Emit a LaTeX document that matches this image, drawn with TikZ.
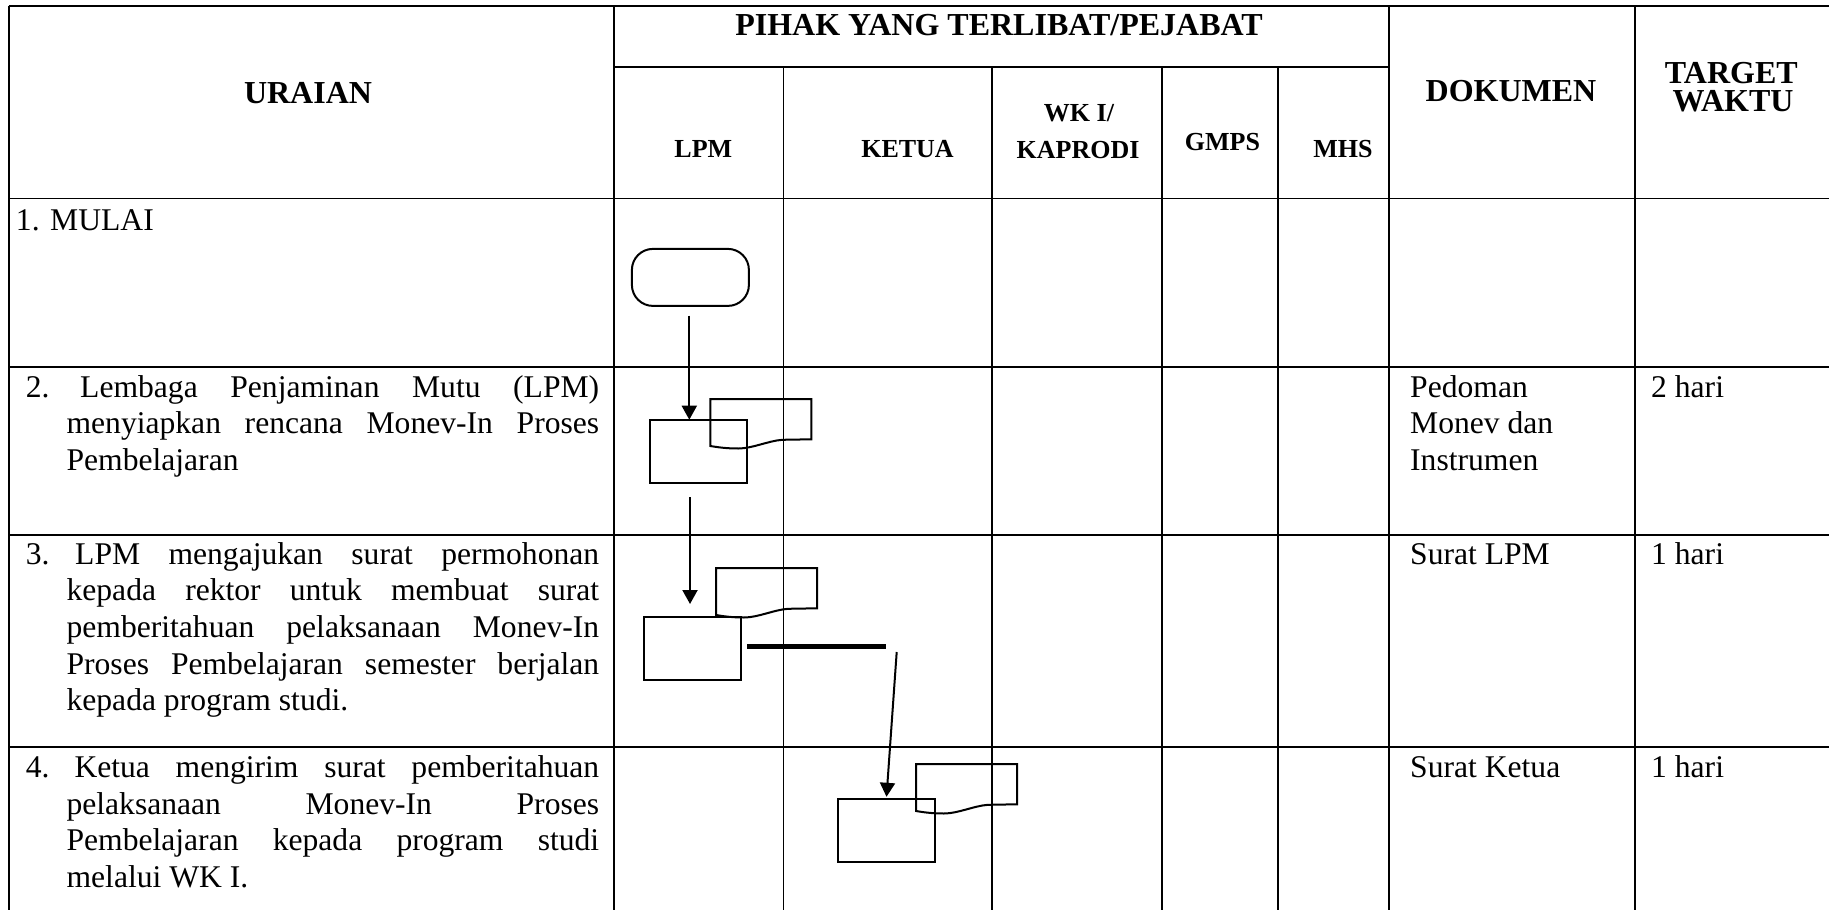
\documentclass[tikz,border=0pt]{standalone}
\usepackage{fontspec}
\setmainfont{Liberation Serif}
\usetikzlibrary{arrows.meta}
\begin{document}
\begin{tikzpicture}[x=1pt,y=-1pt,
  grid/.style={line width=1.8pt},
  shp/.style={draw, line width=2pt},
  procbox/.style={shp, minimum width=97pt, minimum height=63pt, inner sep=0pt, outer sep=0pt},
  term/.style={shp, rounded corners=21pt, minimum width=117pt, minimum height=57pt, inner sep=0pt, outer sep=0pt},
  arr/.style={line width=2pt, -{Triangle[length=14pt,width=15pt]}},
  bar/.style={line width=5pt},
  body/.style={font=\fontsize{31.6}{36.7}\selectfont, inner sep=0pt, anchor=base west},
  hdr/.style={font=\fontsize{32}{36.7}\selectfont\bfseries, inner sep=0pt, anchor=base},
  hdrs/.style={font=\fontsize{26}{30}\selectfont\bfseries, inner sep=0pt, anchor=base},
  docshape/.pic={\draw[line width=2pt] (0,0) -- (101,0) -- (101,40.3) -- (72,40.8)
     .. controls (58,41.8) and (42,49.5) .. (28,49.5)
     .. controls (15,49.5) and (6,48) .. (0,47) -- cycle;}
]
\useasboundingbox (0,0) rectangle (1829,910);
% ---- table grid ----
\draw[grid] (8.7,6) -- (1829,6);
\draw[grid] (614,66.7) -- (1389,66.7);
\draw[grid] (8.7,198.5) -- (1829,198.5);
\draw[grid] (8.7,366.7) -- (1829,366.7);
\draw[grid] (8.7,534.7) -- (1829,534.7);
\draw[grid] (8.7,747) -- (1829,747);
\draw[grid] (8.7,6) -- (8.7,910);
\draw[grid] (614,6) -- (614,910);
\draw[grid] (783.5,66.7) -- (783.5,910);
\draw[grid] (992.3,66.7) -- (992.3,910);
\draw[grid] (1161.8,66.7) -- (1161.8,910);
\draw[grid] (1278,66.7) -- (1278,910);
\draw[grid] (1389,6) -- (1389,910);
\draw[grid] (1635,6) -- (1635,910);
% ---- header ----
\node[hdr] (hU) at (308,103.3) {URAIAN};
\node[hdr] (hP) at (999,35) {PIHAK YANG TERLIBAT/PEJABAT};
\node[hdrs] (hL) at (703.3,157.3) {LPM};
\node[hdrs] (hK) at (907.5,157.3) {KETUA};
\node[hdrs] (hW1) at (1079,121.7) {WK I/};
\node[hdrs] (hW2) at (1078,158.3) {KAPRODI};
\node[hdrs] (hG) at (1222.5,150.7) {GMPS};
\node[hdrs] (hM) at (1343,157.3) {MHS};
\node[hdr] (hD) at (1511,101.7) {DOKUMEN};
\node[hdr] (hT1) at (1731.3,83.3) {TARGET};
\node[hdr] (hT2) at (1733,111.7) {WAKTU};
% ---- column 1 text ----
\node[body] (r1) at (15.8,230) {1. MULAI};
\node[body] (n2) at (25.7,397) {2.};
\node[body] (r2a) at (80,397) {\makebox[519pt][s]{Lembaga Penjaminan Mutu (LPM)}};
\node[body] (r2b) at (66.4,433.7) {\makebox[532.6pt][s]{menyiapkan rencana Monev-In Proses}};
\node[body] (r2c) at (66.4,470.4) {Pembelajaran};
\node[body] (n3) at (25.7,564) {3.};
\node[body] (r3a) at (75,564) {\makebox[524pt][s]{LPM mengajukan surat permohonan}};
\node[body] (r3b) at (66.4,600.7) {\makebox[532.6pt][s]{kepada rektor untuk membuat surat}};
\node[body] (r3c) at (66.4,637.4) {\makebox[532.6pt][s]{pemberitahuan pelaksanaan Monev-In}};
\node[body] (r3d) at (66.4,674.1) {\makebox[532.6pt][s]{Proses Pembelajaran semester berjalan}};
\node[body] (r3e) at (66.4,710.8) {kepada program studi.};
\node[body] (n4) at (25.7,777.3) {4.};
\node[body] (r4a) at (74.3,777.3) {\makebox[524.7pt][s]{Ketua mengirim surat pemberitahuan}};
\node[body] (r4b) at (66.4,814) {\makebox[532.6pt][s]{pelaksanaan Monev-In Proses}};
\node[body] (r4c) at (66.4,850.7) {\makebox[532.6pt][s]{Pembelajaran kepada program studi}};
\node[body] (r4d) at (66.4,887.4) {melalui WK I.};
% ---- dokumen / target ----
\node[body] (d2a) at (1410,397) {Pedoman};
\node[body] (d2b) at (1410,433.7) {Monev dan};
\node[body] (d2c) at (1410,470.4) {Instrumen};
\node[body] (t2) at (1651,397) {2 hari};
\node[body] (d3) at (1410,564) {Surat LPM};
\node[body] (t3) at (1651,564) {1 hari};
\node[body] (d4) at (1410,777.3) {Surat Ketua};
\node[body] (t4) at (1651,777.3) {1 hari};
% ---- flow shapes ----
\node[term] (s1) at (690.4,277.4) {};
\node[procbox] (b2) at (698.7,451.2) {};
\pic at (710.3,399) {docshape};
\node[procbox] (b3) at (692.7,648.5) {};
\pic at (716,568) {docshape};
\node[procbox] (b4) at (886.5,830.8) {};
\pic at (916,764) {docshape};
% ---- connectors ----
\coordinate (a1s) at (689.3,315.7);
\draw[arr] (a1s) -- (a1s |- b2.north);
\coordinate (a2s) at (690,497.3);
\coordinate (a2e) at (690,604);
\draw[arr] (a2s) -- (a2e);
\coordinate (bar1) at (747,646.7);
\coordinate (bar2) at (886,646.7);
\draw[bar] (bar1) -- (bar2);
\coordinate (a3s) at (896.7,652);
\draw[arr] (a3s) -- ([yshift=2.5pt]b4.north);
\end{tikzpicture}
\end{document}
